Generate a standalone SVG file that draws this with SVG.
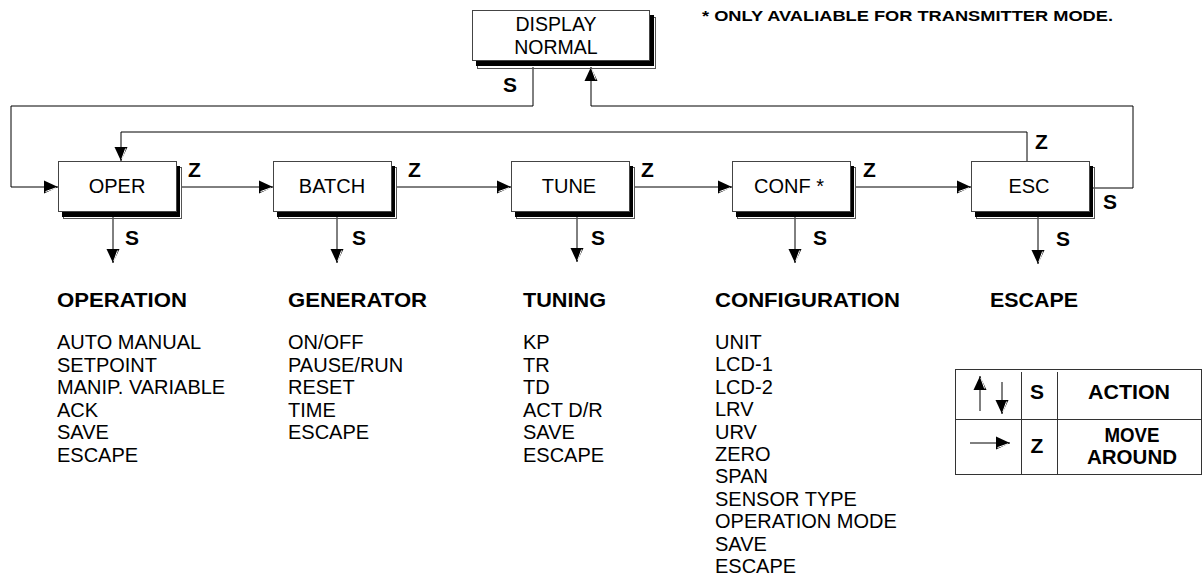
<svg xmlns="http://www.w3.org/2000/svg" width="1204" height="584" viewBox="0 0 1204 584">
<style>
.box{fill:#fff;stroke:#444;stroke-width:1}
.sh{fill:#000}
.sl{fill:none;stroke:#555;stroke-width:1}
.bl{font-family:"Liberation Sans",Arial,sans-serif;font-size:20px;fill:#000;text-anchor:middle}
.lbl{font-family:"Liberation Sans",Arial,sans-serif;font-size:21px;font-weight:bold;fill:#000}
.hd{font-family:"Liberation Sans",Arial,sans-serif;font-size:20.5px;font-weight:bold;fill:#000}
.it{font-family:"Liberation Sans",Arial,sans-serif;font-size:20px;fill:#000}
.ln{fill:none;stroke:#000;stroke-width:1}
.ar{marker-end:url(#mA)}
.ad{marker-end:url(#mB)}
</style>
<defs>
<marker id="mA" markerUnits="userSpaceOnUse" markerWidth="18" markerHeight="18" refX="14" refY="0" viewBox="-2 -9 18 18" orient="auto" overflow="visible">
<path d="M0,-6.5 L14,0 L0,6.5 Z" fill="#000"/>
<path d="M1.5,4.6 L12,0.8" stroke="#fff" stroke-width="1"/>
</marker>
<marker id="mB" markerUnits="userSpaceOnUse" markerWidth="18" markerHeight="18" refX="14" refY="0" viewBox="-2 -9 18 18" orient="auto" overflow="visible">
<path d="M0,-6.5 L14,0 L0,6.5 Z" fill="#000"/>
<path d="M1.5,-4.6 L12,-0.8" stroke="#fff" stroke-width="1"/>
</marker>
</defs>

<g id="connectors">
<path class="ln ar" d="M533 67 V106 H11 V187 H58"/>
<path class="ln ar" d="M1093 188 H1133 V106 H591 V67"/>
<path class="ln ad" d="M1027 161 V132 H121 V161"/>
<path class="ln ar" d="M181 187 H273"/>
<path class="ln ar" d="M396 187 H511"/>
<path class="ln ar" d="M634 187 H732"/>
<path class="ln ar" d="M855 187 H971"/>
<path class="ln ad" d="M113 217 V263"/>
<path class="ln ad" d="M337 217 V263"/>
<path class="ln ad" d="M577 217 V262"/>
<path class="ln ad" d="M795 217 V263"/>
<path class="ln ad" d="M1038 217 V264"/>
<text class="lbl" x="503" y="92">S</text>
<text class="lbl" x="188" y="177">Z</text>
<text class="lbl" x="408" y="177">Z</text>
<text class="lbl" x="641" y="177">Z</text>
<text class="lbl" x="863" y="177">Z</text>
<text class="lbl" x="1035" y="149">Z</text>
<text class="lbl" x="1103" y="209">S</text>
<text class="lbl" x="125" y="245">S</text>
<text class="lbl" x="352" y="245">S</text>
<text class="lbl" x="591" y="245">S</text>
<text class="lbl" x="813" y="245">S</text>
<text class="lbl" x="1056" y="246">S</text>
</g>

<g id="display">
<rect class="sl" x="477.5" y="17.5" width="178" height="51"/>
<rect class="sh" x="476" y="15" width="178" height="51"/>
<rect class="box" x="472.5" y="10.5" width="177" height="50"/>
<text class="bl" x="556" y="31" style="font-size:19.5px">DISPLAY</text>
<text class="bl" x="556" y="54" style="font-size:19.5px">NORMAL</text>
</g>

<g id="oper">
<rect class="sl" x="63.5" y="167.5" width="118" height="51"/>
<rect class="sh" x="62" y="166" width="118" height="51"/>
<rect class="box" x="58.5" y="161.5" width="118" height="50"/>
<text class="bl" x="117" y="193">OPER</text>
</g>
<g id="batch">
<rect class="sl" x="278.5" y="167.5" width="118" height="51"/>
<rect class="sh" x="277" y="166" width="118" height="51"/>
<rect class="box" x="273.5" y="161.5" width="118" height="50"/>
<text class="bl" x="332" y="193">BATCH</text>
</g>
<g id="tune">
<rect class="sl" x="516.5" y="167.5" width="118" height="51"/>
<rect class="sh" x="515" y="166" width="118" height="51"/>
<rect class="box" x="511.5" y="161.5" width="118" height="50"/>
<text class="bl" x="569" y="193">TUNE</text>
</g>
<g id="conf">
<rect class="sl" x="737.5" y="167.5" width="118" height="51"/>
<rect class="sh" x="736" y="166" width="118" height="51"/>
<rect class="box" x="732.5" y="161.5" width="118" height="50"/>
<text class="bl" x="789" y="193">CONF *</text>
</g>
<g id="esc">
<rect class="sl" x="976.5" y="167.5" width="118" height="51"/>
<rect class="sh" x="975" y="166" width="118" height="51"/>
<rect class="box" x="971.5" y="161.5" width="118" height="50"/>
<text class="bl" x="1029" y="193">ESC</text>
</g>

<g id="footnote">
<text class="hd" x="702" y="21" style="font-size:14px" textLength="411" lengthAdjust="spacingAndGlyphs">* ONLY AVALIABLE FOR TRANSMITTER MODE.</text>
</g>

<g id="operation-list">
<text class="hd" x="57" y="307" textLength="130" lengthAdjust="spacingAndGlyphs">OPERATION</text>
<text class="it" x="57" y="349">AUTO MANUAL</text>
<text class="it" x="57" y="371.5">SETPOINT</text>
<text class="it" x="57" y="394">MANIP. VARIABLE</text>
<text class="it" x="57" y="416.5">ACK</text>
<text class="it" x="57" y="439">SAVE</text>
<text class="it" x="57" y="461.5">ESCAPE</text>
</g>
<g id="generator-list">
<text class="hd" x="288" y="307" textLength="139" lengthAdjust="spacingAndGlyphs">GENERATOR</text>
<text class="it" x="288" y="349">ON/OFF</text>
<text class="it" x="288" y="371.5">PAUSE/RUN</text>
<text class="it" x="288" y="394">RESET</text>
<text class="it" x="288" y="416.5">TIME</text>
<text class="it" x="288" y="439">ESCAPE</text>
</g>
<g id="tuning-list">
<text class="hd" x="523" y="307" textLength="83" lengthAdjust="spacingAndGlyphs">TUNING</text>
<text class="it" x="523" y="349">KP</text>
<text class="it" x="523" y="371.5">TR</text>
<text class="it" x="523" y="394">TD</text>
<text class="it" x="523" y="416.5">ACT D/R</text>
<text class="it" x="523" y="439">SAVE</text>
<text class="it" x="523" y="461.5">ESCAPE</text>
</g>
<g id="configuration-list">
<text class="hd" x="715" y="307" textLength="185" lengthAdjust="spacingAndGlyphs">CONFIGURATION</text>
<text class="it" x="715" y="349">UNIT</text>
<text class="it" x="715" y="371.4">LCD-1</text>
<text class="it" x="715" y="393.8">LCD-2</text>
<text class="it" x="715" y="416.2">LRV</text>
<text class="it" x="715" y="438.6">URV</text>
<text class="it" x="715" y="461">ZERO</text>
<text class="it" x="715" y="483.4">SPAN</text>
<text class="it" x="715" y="505.8">SENSOR TYPE</text>
<text class="it" x="715" y="528.2">OPERATION MODE</text>
<text class="it" x="715" y="550.6">SAVE</text>
<text class="it" x="715" y="573">ESCAPE</text>
</g>
<g id="escape-list">
<text class="hd" x="990" y="307" textLength="88" lengthAdjust="spacingAndGlyphs">ESCAPE</text>
</g>

<g id="legend">
<rect x="955.5" y="369.5" width="246" height="105" fill="none" stroke="#333" stroke-width="1"/>
<path d="M955.5 419.5 H1201.5 M1021.5 372 V474.5 M1057.5 372 V474.5" fill="none" stroke="#333" stroke-width="1"/>
<path class="ln ar" d="M980 411 V376"/>
<path class="ln ad" d="M1002 382 V414"/>
<path class="ln ar" d="M970 443 H1010"/>
<text class="lbl" x="1037" y="399" text-anchor="middle">S</text>
<text class="lbl" x="1037" y="453" text-anchor="middle">Z</text>
<text class="hd" x="1129" y="399" text-anchor="middle" textLength="82" lengthAdjust="spacingAndGlyphs">ACTION</text>
<text class="hd" x="1132" y="442" text-anchor="middle" textLength="55" lengthAdjust="spacingAndGlyphs">MOVE</text>
<text class="hd" x="1132" y="463.5" text-anchor="middle" textLength="90" lengthAdjust="spacingAndGlyphs">AROUND</text>
</g>
</svg>
